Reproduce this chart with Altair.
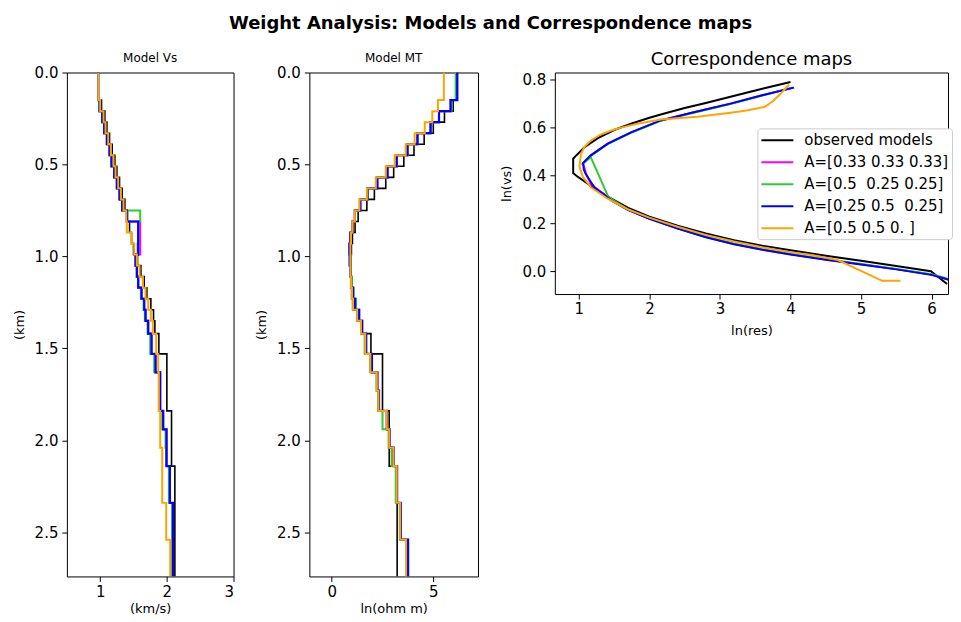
import altair as alt
import pandas as pd

# ---------------- data ----------------
SERIES = ["observed models", "A=[0.33 0.33 0.33]", "A=[0.5\u00a0 0.25 0.25]",
          "A=[0.25 0.5\u00a0 0.25]", "A=[0.5 0.5 0. ]"]
COLORS = ["#000000", "#ff00ff", "#2ecc2e", "#0000ff", "#ffa500"]
WIDTHS = [1.6, 2.0, 2.0, 2.2, 2.0]

# layer tops (km); last layer extends to BOTTOM
TOPS = [0.00, 0.15, 0.21, 0.27, 0.33, 0.39, 0.45, 0.51, 0.57, 0.63, 0.69, 0.75,
        0.81, 0.87, 0.93, 0.99, 1.05, 1.11, 1.17, 1.23, 1.29, 1.35, 1.42, 1.53,
        1.63, 1.73, 1.84, 1.94, 2.04, 2.14, 2.34, 2.54]
BOTTOM = 2.74

VS_OBS = [0.97, 1.02, 1.07, 1.10, 1.14, 1.18, 1.22, 1.25, 1.29, 1.33, 1.37, 1.41,
          1.44, 1.47, 1.50, 1.56, 1.61, 1.66, 1.70, 1.76, 1.80, 1.82, 1.88, 2.00,
          2.00, 2.00, 2.07, 2.07, 2.07, 2.12, 2.12, 2.12]
VS_A1 = [0.97, 0.99, 1.03, 1.06, 1.10, 1.14, 1.17, 1.21, 1.25, 1.29, 1.33, 1.40,
         1.60, 1.60, 1.60, 1.53, 1.55, 1.57, 1.62, 1.66, 1.68, 1.72, 1.77, 1.83,
         1.90, 1.90, 1.945, 1.995, 1.995, 2.045, 2.09, 2.09]
VS_A2 = [0.97, 0.99, 1.03, 1.06, 1.10, 1.14, 1.17, 1.21, 1.25, 1.29, 1.33, 1.60,
         1.57, 1.57, 1.56, 1.53, 1.55, 1.57, 1.61, 1.65, 1.67, 1.71, 1.75, 1.81,
         1.88, 1.88, 1.93, 1.98, 1.99, 2.03, 2.08, 2.08]
VS_A3 = [0.97, 0.99, 1.03, 1.06, 1.10, 1.14, 1.17, 1.21, 1.25, 1.29, 1.33, 1.40,
         1.57, 1.57, 1.57, 1.53, 1.55, 1.57, 1.62, 1.66, 1.68, 1.72, 1.77, 1.83,
         1.90, 1.90, 1.945, 1.995, 1.995, 2.045, 2.09, 2.09]
VS_A4 = [0.97, 1.00, 1.05, 1.08, 1.12, 1.16, 1.20, 1.23, 1.27, 1.31, 1.35, 1.39,
         1.40, 1.47, 1.51, 1.55, 1.59, 1.64, 1.68, 1.72, 1.76, 1.79, 1.84, 1.87,
         1.88, 1.88, 1.90, 1.90, 1.93, 1.93, 1.99, 2.05]

MT_OBS = [6.18, 5.98, 5.55, 5.00, 4.55, 4.05, 3.55, 3.05, 2.66, 2.10, 1.73, 1.30,
          1.15, 1.02, 0.97, 0.95, 0.95, 0.95, 0.98, 1.03, 1.25, 1.44, 1.93, 2.50,
          2.50, 2.50, 2.83, 2.83, 2.83, 3.22, 3.22, 3.22]
MT_A1 = [6.16, 5.85, 5.28, 4.85, 4.22, 3.73, 3.20, 2.74, 2.24, 1.76, 1.41, 1.14,
         1.03, 0.92, 0.88, 0.90, 0.93, 0.96, 1.06, 1.16, 1.35, 1.50, 1.68, 1.96,
         2.24, 2.32, 2.70, 2.84, 3.04, 3.21, 3.39, 3.74]
MT_A2 = [6.10, 5.90, 5.28, 4.85, 4.22, 3.73, 3.18, 2.72, 2.22, 1.76, 1.40, 1.14,
         1.02, 0.93, 0.90, 0.92, 0.95, 1.00, 1.08, 1.20, 1.35, 1.48, 1.62, 1.88,
         2.20, 2.28, 2.50, 2.80, 2.95, 3.15, 3.35, 3.70]
MT_A3 = [6.18, 5.85, 5.28, 4.87, 4.22, 3.73, 3.20, 2.75, 2.25, 1.76, 1.41, 1.14,
         1.03, 0.92, 0.87, 0.88, 0.92, 0.95, 1.05, 1.15, 1.35, 1.50, 1.70, 1.98,
         2.25, 2.33, 2.72, 2.85, 3.05, 3.22, 3.40, 3.76]
MT_A4 = [5.52, 5.23, 4.95, 4.58, 4.08, 3.64, 3.10, 2.66, 2.17, 1.73, 1.36, 1.14,
         1.02, 0.95, 0.92, 0.92, 0.92, 0.95, 1.00, 1.05, 1.25, 1.44, 1.65, 1.90,
         2.22, 2.30, 2.71, 2.83, 3.04, 3.20, 3.37, 3.66]

# correspondence maps: ln(res) and ln(vs) along each curve
MAP_OBS_X = [4.00, 3.60, 3.15, 2.80, 2.50, 2.20, 2.00, 1.75, 1.50, 1.27, 1.08, 0.95,
             0.92, 0.92, 0.97, 1.13, 1.41, 1.70, 2.00, 2.40, 2.80, 3.20, 3.60, 4.00,
             4.50, 5.00, 5.50, 5.99, 6.22]
MAP_OBS_Y = [0.790, 0.762, 0.729, 0.703, 0.682, 0.658, 0.641, 0.617, 0.590, 0.556,
             0.518, 0.480, 0.470, 0.410, 0.398, 0.365, 0.312, 0.265, 0.228, 0.190,
             0.158, 0.130, 0.107, 0.088, 0.065, 0.044, 0.022, 0.000, -0.053]
MAP_A1_X = [4.04, 3.60, 3.15, 2.60, 2.16, 1.74, 1.41, 1.17, 1.06, 1.10, 1.17, 1.25,
            1.46, 1.70, 2.00, 2.40, 2.80, 3.20, 3.60, 4.00, 4.50, 5.00, 5.50, 6.00,
            6.24]
MAP_A1_Y = [0.767, 0.735, 0.700, 0.662, 0.630, 0.580, 0.533, 0.484, 0.452, 0.410,
            0.365, 0.345, 0.298, 0.256, 0.220, 0.179, 0.143, 0.114, 0.091, 0.071,
            0.049, 0.029, 0.009, -0.014, -0.035]
MAP_A2_X = [4.03, 3.60, 3.15, 2.60, 2.16, 1.74, 1.41, 1.17, 1.04, 1.17, 1.42, 1.70,
            2.00, 2.40, 2.80, 3.20, 3.60, 4.00, 4.50, 5.00, 5.50, 6.00, 6.22]
MAP_A2_Y = [0.768, 0.734, 0.698, 0.660, 0.628, 0.578, 0.531, 0.482, 0.445, 0.476,
            0.310, 0.257, 0.220, 0.180, 0.144, 0.115, 0.092, 0.072, 0.050, 0.030,
            0.010, -0.012, -0.030]
MAP_A3_X = [4.05, 3.60, 3.15, 2.60, 2.16, 1.74, 1.41, 1.17, 1.06, 1.07, 1.10, 1.22,
            1.46, 1.70, 2.00, 2.40, 2.80, 3.20, 3.60, 4.00, 4.50, 5.00, 5.50, 6.00,
            6.25]
MAP_A3_Y = [0.767, 0.735, 0.700, 0.662, 0.630, 0.580, 0.533, 0.484, 0.452, 0.425,
            0.405, 0.351, 0.296, 0.255, 0.219, 0.178, 0.142, 0.113, 0.090, 0.070,
            0.048, 0.028, 0.008, -0.015, -0.036]
MAP_A4_X = [3.98, 3.86, 3.75, 3.63, 3.40, 3.15, 2.68, 2.16, 1.83, 1.60, 1.46, 1.30,
            1.17, 1.08, 1.03, 1.01, 1.06, 1.17, 1.41, 1.70, 2.00, 2.40, 2.80, 3.20,
            3.60, 4.00, 4.30, 4.67, 5.30, 5.56]
MAP_A4_Y = [0.780, 0.741, 0.710, 0.686, 0.672, 0.662, 0.645, 0.634, 0.616, 0.600,
            0.588, 0.570, 0.546, 0.520, 0.490, 0.435, 0.393, 0.351, 0.303, 0.258,
            0.224, 0.186, 0.152, 0.124, 0.100, 0.080, 0.068, 0.047, -0.040, -0.040]

VS = [VS_OBS, VS_A1, VS_A2, VS_A3, VS_A4]
MT = [MT_OBS, MT_A1, MT_A2, MT_A3, MT_A4]
MAPX = [MAP_OBS_X, MAP_A1_X, MAP_A2_X, MAP_A3_X, MAP_A4_X]
MAPY = [MAP_OBS_Y, MAP_A1_Y, MAP_A2_Y, MAP_A3_Y, MAP_A4_Y]


def profile_df(all_vals):
    rows = []
    for s, vals in zip(SERIES, all_vals):
        k = 0
        for i, v in enumerate(vals):
            top = TOPS[i]
            bot = TOPS[i + 1] if i + 1 < len(TOPS) else BOTTOM
            rows.append(dict(series=s, depth=top, val=v, k=k)); k += 1
            rows.append(dict(series=s, depth=bot, val=v, k=k)); k += 1
    return pd.DataFrame(rows)


def map_df():
    rows = []
    for s, xs, ys in zip(SERIES, MAPX, MAPY):
        for k, (a, b) in enumerate(zip(xs, ys)):
            rows.append(dict(series=s, lnres=a, lnvs=b, k=k))
    return pd.DataFrame(rows)


FONT = "DejaVu Sans"
color_scale = alt.Scale(domain=SERIES, range=COLORS)


def profile_panel(df, title, xdom, xvals, xtitle, w):
    layers = []
    for s, c, sw in zip(SERIES, COLORS, WIDTHS):
        layers.append(
            alt.Chart(df).transform_filter(alt.datum.series == s)
            .mark_line(color=c, strokeWidth=sw, clip=True, interpolate="linear")
            .encode(
                x=alt.X("val:Q", scale=alt.Scale(domain=xdom, nice=False, zero=False),
                        axis=alt.Axis(values=xvals, format="d", title=xtitle,
                                      labelPadding=3, titlePadding=3)),
                y=alt.Y("depth:Q", scale=alt.Scale(domain=[0, BOTTOM], reverse=True,
                                                    nice=False, zero=False),
                        axis=alt.Axis(values=[0, 0.5, 1.0, 1.5, 2.0, 2.5], format=".1f",
                                      title="(km)")),
                order=alt.Order("k:Q"),
            )
        )
    return alt.layer(*layers).properties(
        width=w, height=505,
        title=alt.TitleParams(title, fontSize=12, font=FONT, fontWeight="normal", offset=1),
    )


p1 = profile_panel(profile_df(VS), "Model Vs", [0.5, 3.0], [1, 2, 3], "(km/s)", 167)
p2 = profile_panel(profile_df(MT), "Model MT", [-1.1, 7.2], [0, 5], "ln(ohm m)", 169)

P3_W = 394
P3_PX = 70.7
mdf = map_df()
map_layers = []
for s, c in zip(SERIES, COLORS):
    map_layers.append(
        alt.Chart(mdf).transform_filter(alt.datum.series == s)
        .mark_line(strokeWidth=2, clip=True)
        .encode(
            x=alt.X("lnres:Q", scale=alt.Scale(domain=[0.66, 0.66 + P3_W / P3_PX],
                                               nice=False, zero=False),
                    axis=alt.Axis(values=[1, 2, 3, 4, 5, 6], format="d", title="ln(res)",
                                  labelPadding=3, titlePadding=8)),
            y=alt.Y("lnvs:Q", scale=alt.Scale(domain=[-0.095, 0.83], nice=False, zero=False),
                    axis=alt.Axis(values=[0.0, 0.2, 0.4, 0.6, 0.8], format=".1f",
                                  title="ln(vs)", titlePadding=9)),
            color=alt.Color("series:N", scale=color_scale, sort=SERIES,
                            legend=alt.Legend(
                                title=None, orient="none", legendX=692, legendY=56,
                                symbolType="M-1,0H3", symbolSize=256, symbolStrokeWidth=2,
                                labelFontSize=15, labelFont=FONT, labelColor="#000",
                                labelOffset=26, rowPadding=5, padding=3,
                                strokeColor="#cccccc", fillColor="white", cornerRadius=3,
                                labelLimit=300,
                            )),
            order=alt.Order("k:Q"),
        )
    )
p3 = alt.layer(*map_layers).properties(
    width=P3_W, height=222,
    title=alt.TitleParams("Correspondence maps", fontSize=18, font=FONT,
                          fontWeight="normal", offset=4),
)

chart = alt.hconcat(p1, p2, p3, spacing=20).properties(
    title=alt.TitleParams("Weight Analysis: Models and Correspondence maps",
                          fontSize=18, font=FONT, fontWeight="bold", anchor="middle",
                          offset=17, dx=8),
    padding={"left": 4, "top": 6, "right": 0, "bottom": 0},
).configure_view(
    stroke="#000000", strokeWidth=1
).configure_axis(
    domain=False, grid=False, tickColor="#000", tickSize=5, tickWidth=1,
    labelFont=FONT, labelFontSize=15, labelColor="#000", labelPadding=4,
    titleFont=FONT, titleFontSize=13, titleFontWeight="normal", titleColor="#000",
    titlePadding=8,
).configure_title(color="#000")

chart.save("out.html", embed_options={"renderer": "svg", "actions": False})
